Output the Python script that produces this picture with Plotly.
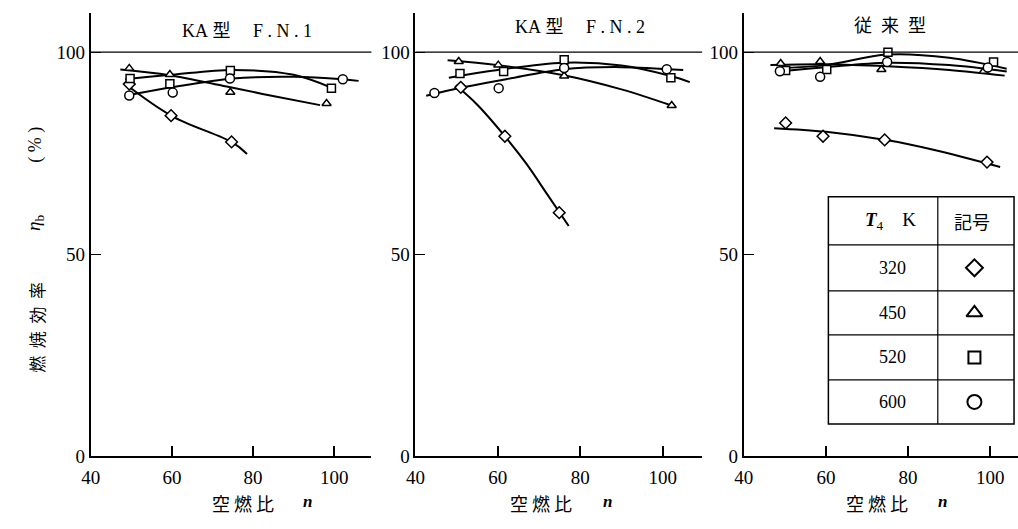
import plotly.graph_objects as go

W, H = 1018, 529

# ---------------- data: air/fuel ratio n vs combustion efficiency (%) ----------------
T4_LEVELS = ["320", "450", "520", "600"]
SYMBOLS = ["diamond", "triangle-up", "square", "circle"]
X_TICKS = [40, 60, 80, 100]
Y_TICKS = [0, 50, 100]

# KA型 F.N.1 — measured points
fn1_320_n = [49.5, 59.8, 74.7]
fn1_320_eta = [92.1, 84.3, 77.8]
fn1_450_n = [49.5, 59.5, 74.4, 98.1]
fn1_450_eta = [96.0, 94.5, 90.1, 87.3]
fn1_520_n = [49.7, 59.5, 74.4, 99.3]
fn1_520_eta = [93.5, 92.2, 95.5, 91.1]
fn1_600_n = [49.5, 60.2, 74.3, 102.1]
fn1_600_eta = [89.3, 90.0, 93.5, 93.3]
# KA型 F.N.1 — faired curves
fn1_320_fit_n = [48.7, 60, 75, 78.5]
fn1_320_fit_eta = [92.0, 84.2, 77.6, 74.8]
fn1_450_fit_n = [47.3, 59.4, 73.5, 85.2, 96.5]
fn1_450_fit_eta = [95.7, 94.3, 91.5, 89.1, 86.9]
fn1_520_fit_n = [48.5, 60, 75, 90, 99.3]
fn1_520_fit_eta = [93.3, 94.4, 95.6, 94.4, 91.2]
fn1_600_fit_n = [48.5, 60, 75, 90, 102, 106]
fn1_600_fit_eta = [89.2, 91.3, 93.5, 93.9, 93.3, 92.9]

# KA型 F.N.2 — measured points
fn2_320_n = [51.0, 61.7, 74.9]
fn2_320_eta = [91.3, 79.2, 60.3]
fn2_450_n = [50.5, 60.1, 76.1, 102.2]
fn2_450_eta = [97.7, 96.8, 94.1, 86.8]
fn2_520_n = [50.8, 61.4, 76.1, 102.0]
fn2_520_eta = [94.7, 95.2, 98.1, 93.7]
fn2_600_n = [44.6, 60.2, 76.1, 101.0]
fn2_600_eta = [89.9, 91.1, 96.1, 95.8]
# KA型 F.N.2 — faired curves
fn2_320_fit_n = [49.8, 55, 61.7, 67, 72.2, 77.2]
fn2_320_fit_eta = [91.8, 87.0, 79.2, 72.3, 64.5, 57.0]
fn2_450_fit_n = [47.8, 60, 76, 90, 102.2]
fn2_450_fit_eta = [98.0, 96.8, 94.3, 90.8, 86.8]
fn2_520_fit_n = [48.1, 60, 76, 90, 102, 106.6]
fn2_520_fit_eta = [93.7, 95.6, 97.4, 96.7, 94.1, 92.6]
fn2_600_fit_n = [42.6, 51, 62, 76, 90, 105]
fn2_600_fit_eta = [89.2, 91.2, 93.3, 95.8, 96.3, 95.6]

# 従来型 — measured points
conv_320_n = [50.2, 59.3, 74.3, 99.2]
conv_320_eta = [82.5, 79.2, 78.3, 72.8]
conv_450_n = [49.0, 58.6, 73.5, 98.4]
conv_450_eta = [97.2, 97.7, 95.7, 95.3]
conv_520_n = [50.2, 60.2, 75.1, 100.8]
conv_520_eta = [95.5, 95.7, 100.0, 97.6]
conv_600_n = [48.8, 58.6, 74.9, 99.4]
conv_600_eta = [95.3, 93.9, 97.6, 96.2]
# 従来型 — faired curves
conv_320_fit_n = [47.4, 60, 75, 86.4, 102.4]
conv_320_fit_eta = [81.2, 80.3, 78.2, 75.8, 71.6]
conv_450_fit_n = [46.5, 60, 75, 90, 103.5]
conv_450_fit_eta = [96.8, 97.0, 96.5, 95.6, 94.2]
conv_520_fit_n = [48, 60, 75, 90, 104]
conv_520_fit_eta = [96.0, 96.8, 99.4, 98.6, 95.9]
conv_600_fit_n = [48, 60, 75, 90, 104]
conv_600_fit_eta = [95.2, 96.3, 97.4, 96.8, 95.2]

NB = "\u00a0"
panels = [
    dict(title="KA" + NB + "型" + NB * 5 + "F" + NB + "." + NB + "N" + NB + "." + NB + "1",
         title_xy=(239, 32),
         series=[(fn1_320_n, fn1_320_eta, fn1_320_fit_n, fn1_320_fit_eta),
                 (fn1_450_n, fn1_450_eta, fn1_450_fit_n, fn1_450_fit_eta),
                 (fn1_520_n, fn1_520_eta, fn1_520_fit_n, fn1_520_fit_eta),
                 (fn1_600_n, fn1_600_eta, fn1_600_fit_n, fn1_600_fit_eta)]),
    dict(title="KA" + NB + "型" + NB * 5 + "F" + NB + "." + NB + "N" + NB + "." + NB + "2",
         title_xy=(576, 28),
         series=[(fn2_320_n, fn2_320_eta, fn2_320_fit_n, fn2_320_fit_eta),
                 (fn2_450_n, fn2_450_eta, fn2_450_fit_n, fn2_450_fit_eta),
                 (fn2_520_n, fn2_520_eta, fn2_520_fit_n, fn2_520_fit_eta),
                 (fn2_600_n, fn2_600_eta, fn2_600_fit_n, fn2_600_fit_eta)]),
    dict(title="従" + NB * 2 + "来" + NB * 2 + "型",
         title_xy=(889, 27),
         series=[(conv_320_n, conv_320_eta, conv_320_fit_n, conv_320_fit_eta),
                 (conv_450_n, conv_450_eta, conv_450_fit_n, conv_450_fit_eta),
                 (conv_520_n, conv_520_eta, conv_520_fit_n, conv_520_fit_eta),
                 (conv_600_n, conv_600_eta, conv_600_fit_n, conv_600_fit_eta)]),
]

# ---------------- geometry (pixels) ----------------
AX_LEFT = [81.5, 409.5, 741.0]
AX_RIGHT = [365.0, 699.0, 1018.0]
PX_PER_N = [4.10, 4.16, 4.15]
Y_ZERO_PX, Y_TOP_PX, PX_PER_ETA = 466.0, 13.0, 4.127
XLABEL_CJK_X = [235, 536, 876]
XLABEL_N_X = [300, 603, 942]
XLABEL_Y = 514

SERIF = "Liberation Serif, DejaVu Serif, serif"
CJK = "Noto Sans CJK JP, Noto Sans CJK SC, sans-serif"
MIXED = "Liberation Serif, Noto Sans CJK JP, serif"

POINT_SIZES = {"diamond": 9, "triangle-up": 8, "square": 8, "circle": 9}
KEY_SIZES = {"diamond": 13, "triangle-up": 14, "square": 12, "circle": 14}

fig = go.Figure()
layout = dict(
    width=W, height=H, autosize=False,
    margin=dict(l=0, r=0, t=0, b=0, pad=0),
    paper_bgcolor="white", plot_bgcolor="rgba(0,0,0,0)",
    showlegend=False, shapes=[], annotations=[],
)

for i, p in enumerate(panels):
    sfx = "" if i == 0 else str(i + 1)
    xa, ya = "x" + sfx, "y" + sfx
    # faired curves first so the open markers sit on top of them
    for (n, eta, fn, feta) in p["series"]:
        fig.add_trace(go.Scatter(
            x=fn, y=feta, mode="lines", xaxis=xa, yaxis=ya, hoverinfo="skip",
            line=dict(color="black", width=2, shape="spline", smoothing=1.0)))
    for (n, eta, fn, feta), sym in zip(p["series"], SYMBOLS):
        fig.add_trace(go.Scatter(
            x=n, y=eta, mode="markers", xaxis=xa, yaxis=ya,
            marker=dict(symbol=sym, size=POINT_SIZES[sym], color="white",
                        line=dict(color="black", width=1.5))))

    layout["xaxis" + sfx] = dict(
        domain=[AX_LEFT[i] / W, AX_RIGHT[i] / W],
        range=[40, 40 + (AX_RIGHT[i] - AX_LEFT[i]) / PX_PER_N[i]],
        anchor=ya, showline=True, linecolor="black", linewidth=1.5,
        ticks="inside", ticklen=11, tickwidth=1.5, tickcolor="black",
        tickvals=X_TICKS, ticktext=[str(v) for v in X_TICKS],
        tickfont=dict(family=SERIF, size=19, color="black"),
        ticklabelstandoff=3,
        showgrid=False, zeroline=False, fixedrange=True)
    layout["yaxis" + sfx] = dict(
        domain=[1 - Y_ZERO_PX / H, 1 - Y_TOP_PX / H],
        range=[0, (Y_ZERO_PX - Y_TOP_PX) / PX_PER_ETA],
        anchor=xa, showline=True, linecolor="black", linewidth=2,
        ticks="inside", ticklen=10, tickwidth=1.2, tickcolor="black",
        tickvals=Y_TICKS, ticktext=[str(v) for v in Y_TICKS],
        tickfont=dict(family=SERIF, size=19, color="black"),
        showgrid=False, zeroline=False, fixedrange=True)

    # 100 % reference line across the panel
    layout["shapes"].append(dict(
        type="line", xref=xa + " domain", x0=0, x1=1, yref=ya, y0=100, y1=100,
        line=dict(color="black", width=1.2), layer="above"))

    # panel title and x-axis label
    layout["annotations"].append(dict(
        text=p["title"], x=p["title_xy"][0], y=p["title_xy"][1], xref="x4", yref="y4",
        showarrow=False, xanchor="center", yanchor="middle",
        font=dict(family=MIXED, size=18, color="black")))
    layout["annotations"].append(dict(
        text="空" + NB + "燃" + NB + "比", x=XLABEL_CJK_X[i], y=XLABEL_Y, xref="x4", yref="y4",
        showarrow=False, xanchor="center", yanchor="middle",
        font=dict(family=CJK, size=18, color="black")))
    layout["annotations"].append(dict(
        text="<b><i>n</i></b>", x=XLABEL_N_X[i], y=XLABEL_Y - 2, xref="x4", yref="y4",
        showarrow=False, xanchor="center", yanchor="middle",
        font=dict(family=SERIF, size=17, color="black")))

# pixel-space overlay used for the key table and free text
layout["xaxis4"] = dict(domain=[0, 1], range=[0, W], anchor="y4", visible=False, fixedrange=True)
layout["yaxis4"] = dict(domain=[0, 1], range=[H, 0], anchor="x4", visible=False, fixedrange=True)

# vertical y-axis title: 燃焼効率  η_b  (%)
for txt, yc, fam, size in [
    ("燃" + NB * 2 + "焼" + NB * 2 + "効" + NB * 2 + "率", 334, CJK, 17),
    ("<i>η</i><sub>b</sub>", 228, SERIF, 19),
    ("(" + NB + "%" + NB + ")", 148, SERIF, 18),
]:
    layout["annotations"].append(dict(
        text=txt, x=26, y=yc, xref="x4", yref="y4", textangle=-90,
        showarrow=False, xanchor="center", yanchor="middle",
        font=dict(family=fam, size=size, color="black")))

# key table: T4 K / 記号
TBL_L, TBL_R, TBL_MID = 826.5, 1014.0, 937.0
ROW_EDGES = [201, 250, 297, 342, 388, 433]
COL1_X, COL2_X = 891, 974
layout["shapes"].append(dict(
    type="rect", xref="x4", yref="y4", x0=TBL_L, x1=TBL_R, y0=ROW_EDGES[0], y1=ROW_EDGES[-1],
    line=dict(color="black", width=1.5), fillcolor="rgba(0,0,0,0)", layer="above"))
layout["shapes"].append(dict(
    type="line", xref="x4", yref="y4", x0=TBL_MID, x1=TBL_MID, y0=ROW_EDGES[0], y1=ROW_EDGES[-1],
    line=dict(color="black", width=1.2), layer="above"))
for ye in ROW_EDGES[1:-1]:
    layout["shapes"].append(dict(
        type="line", xref="x4", yref="y4", x0=TBL_L, x1=TBL_R, y0=ye, y1=ye,
        line=dict(color="black", width=1.2), layer="above"))

hdr_y = (ROW_EDGES[0] + ROW_EDGES[1]) / 2
layout["annotations"].append(dict(
    text="<b><i>T</i></b><sub>4</sub>" + NB * 4 + "K", x=COL1_X - 2, y=hdr_y, xref="x4", yref="y4",
    showarrow=False, xanchor="center", yanchor="middle",
    font=dict(family=SERIF, size=19, color="black")))
layout["annotations"].append(dict(
    text="記号", x=COL2_X - 2, y=hdr_y, xref="x4", yref="y4",
    showarrow=False, xanchor="center", yanchor="middle",
    font=dict(family=CJK, size=18, color="black")))

row_centers = [(ROW_EDGES[k] + ROW_EDGES[k + 1]) / 2 for k in range(1, len(ROW_EDGES) - 1)]
for lvl, yc in zip(T4_LEVELS, row_centers):
    layout["annotations"].append(dict(
        text=lvl, x=COL1_X, y=yc, xref="x4", yref="y4",
        showarrow=False, xanchor="center", yanchor="middle",
        font=dict(family=SERIF, size=18, color="black")))
for sym, yc in zip(SYMBOLS, row_centers):
    fig.add_trace(go.Scatter(
        x=[COL2_X], y=[yc], mode="markers", xaxis="x4", yaxis="y4", hoverinfo="skip",
        marker=dict(symbol=sym, size=KEY_SIZES[sym], color="white",
                    line=dict(color="black", width=2))))

fig.update_layout(**layout)
fig.write_html("out.html")
